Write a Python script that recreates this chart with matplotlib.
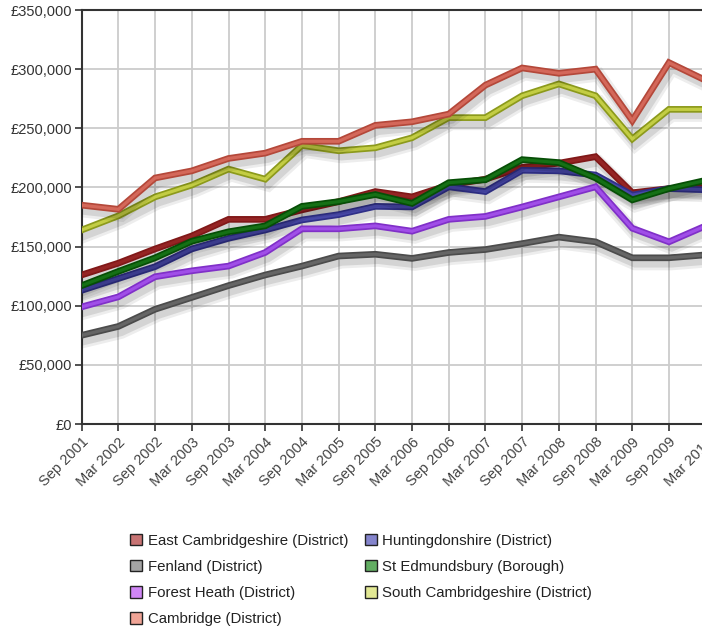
import matplotlib
matplotlib.use('Agg')
import matplotlib.pyplot as plt
import matplotlib.patheffects as pe
from matplotlib.patches import Patch
from matplotlib.ticker import FuncFormatter, MultipleLocator

plt.rcParams['font.family'] = ['Liberation Sans', 'DejaVu Sans']

dates = ['Sep 2001', 'Mar 2002', 'Sep 2002', 'Mar 2003', 'Sep 2003', 'Mar 2004',
         'Sep 2004', 'Mar 2005', 'Sep 2005', 'Mar 2006', 'Sep 2006', 'Mar 2007',
         'Sep 2007', 'Mar 2008', 'Sep 2008', 'Mar 2009', 'Sep 2009', 'Mar 2010']

east_cambs = [126000, 136000, 148000, 159000, 173000, 173000, 181000, 188000, 196500,
              192000, 202000, 207000, 217000, 220500, 226000, 195500, 199000, 200000]
huntingdonshire = [113000, 123000, 133000, 148000, 157000, 164000, 172500, 177000, 184000,
                   183500, 200500, 196500, 214500, 214000, 210500, 193500, 199000, 198000]
fenland = [75000, 82500, 97000, 107000, 117000, 126000, 133500, 142000, 143500,
           140000, 145000, 147500, 152500, 158000, 154000, 140500, 140500, 143000]
st_edmundsbury = [117000, 129000, 140500, 154500, 162500, 167500, 184000, 188000, 194000,
                  186500, 204000, 206500, 223500, 221000, 208000, 189500, 199000, 206000]
forest_heath = [99000, 107500, 124500, 129500, 133500, 145000, 165000, 165000, 167500,
                163000, 173000, 175500, 183500, 192000, 200500, 165500, 154000, 167500]
south_cambs = [164000, 176000, 192000, 202000, 215500, 207000, 235500, 231000, 233500,
               242000, 259000, 259000, 277500, 287500, 277500, 241000, 266000, 266000]
cambridge = [185000, 181500, 208000, 214000, 224500, 229000, 239000, 239000, 252500,
             255500, 262000, 286500, 301000, 296500, 300000, 256500, 305500, 290500]

series = [
    ('East Cambridgeshire (District)', east_cambs, '#801818', '#952424', '#c87474'),
    ('Huntingdonshire (District)', huntingdonshire, '#303088', '#4848a8', '#8484cc'),
    ('Fenland (District)', fenland, '#4c4c4c', '#666666', '#a4a4a4'),
    ('St Edmundsbury (Borough)', st_edmundsbury, '#064e06', '#157015', '#62ad62'),
    ('Forest Heath (District)', forest_heath, '#8030c8', '#a04ee8', '#cf86f5'),
    ('South Cambridgeshire (District)', south_cambs, '#8c9a1c', '#c3cd44', '#e2e894'),
    ('Cambridge (District)', cambridge, '#b4483a', '#d4685a', '#f0a496'),
]

fig = plt.figure(figsize=(7.02, 6.29), dpi=100)
ax = fig.add_axes([81.7 / 702, 205 / 629, 635 / 702, 414 / 629])

x = list(range(len(dates)))
handles = []
for name, vals, edge, inner, swatch in series:
    ax.plot(x, vals, color=inner, lw=2.3, solid_joinstyle='miter', zorder=3,
            path_effects=[
                pe.SimpleLineShadow(offset=(2, -4), shadow_color='#000000', alpha=0.07, linewidth=10),
                pe.SimpleLineShadow(offset=(2, -4), shadow_color='#000000', alpha=0.10, linewidth=6),
                pe.Stroke(linewidth=4.8, foreground=edge),
                pe.Normal()])
    handles.append(Patch(facecolor=swatch, edgecolor='#222222', linewidth=1.0, label=name))

ax.set_xlim(0, 17.3)
ax.set_ylim(0, 350000)
ax.set_xticks(x)
ax.set_xticklabels(dates, rotation=45, ha='right', va='top', rotation_mode='anchor',
                   fontsize=10.5, color='#444444')
ax.yaxis.set_major_locator(MultipleLocator(50000))
ax.yaxis.set_major_formatter(FuncFormatter(lambda v, p: '£{:,.0f}'.format(v)))
ax.tick_params(axis='y', labelsize=10.5, labelcolor='#333333', length=5, width=1.2,
               color='#333333', pad=2)
ax.tick_params(axis='x', length=5, width=1.2, color='#333333', pad=3)

ax.grid(True, color='#cccccc', linewidth=1.3)
ax.set_axisbelow(True)
for side in ['left', 'bottom', 'top']:
    ax.spines[side].set_color('#333333')
    ax.spines[side].set_linewidth(1.5)
ax.spines['right'].set_visible(False)

# two-column legend, filled row by row
order = [0, 2, 4, 6, 1, 3, 5]
fig.legend([handles[i] for i in order], [handles[i].get_label() for i in order],
           ncol=2, loc='upper left', bbox_to_anchor=(119 / 702, 1 - 523 / 629),
           frameon=False, fontsize=10.8, labelcolor='#222222',
           handlelength=0.8, handleheight=0.8, handletextpad=0.4,
           columnspacing=1.1, labelspacing=0.82, borderpad=0.2)

fig.savefig('out.png', dpi=100)
